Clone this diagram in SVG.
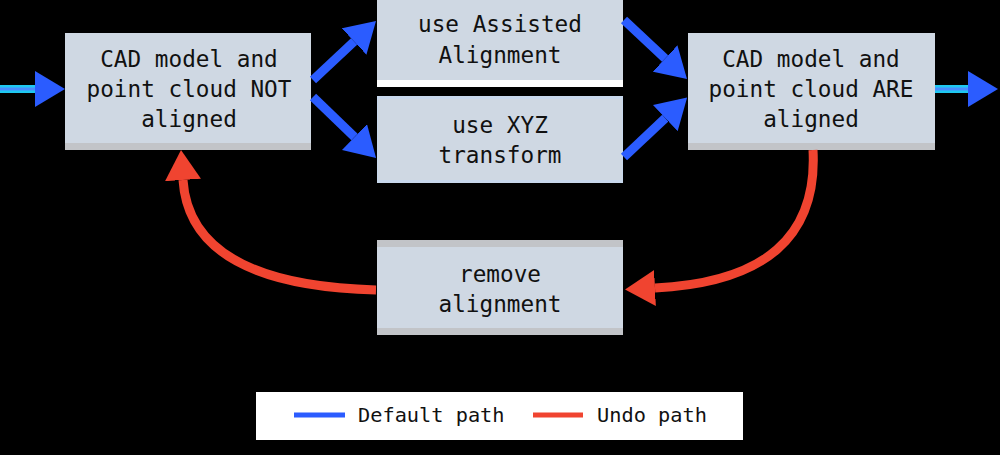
<svg xmlns="http://www.w3.org/2000/svg" width="1000" height="455" viewBox="0 0 1000 455">
<style>
.bg{fill:#000}
.box{fill:#cfd8e3}
.shade{fill:#c2c4c8}
.t{font-family:"DejaVu Sans Mono","Liberation Mono",monospace;font-size:22.7px;fill:#111;text-anchor:middle}
.lt{font-family:"DejaVu Sans Mono","Liberation Mono",monospace;font-size:20.3px;fill:#111}
.blue{stroke:#2b5cff;stroke-width:9;fill:none}
.red{stroke:#f04430;stroke-width:9;fill:none}
</style>
<defs>
<marker id="ab" viewBox="0 0 30 36" refX="0" refY="18" markerWidth="30" markerHeight="36" markerUnits="userSpaceOnUse" orient="auto"><path d="M0,0 L30,18 L0,36 z" fill="#2b5cff"/></marker>
<marker id="ar" viewBox="0 0 30 36" refX="0" refY="18" markerWidth="30" markerHeight="36" markerUnits="userSpaceOnUse" orient="auto"><path d="M0,0 L30,18 L0,36 z" fill="#f04430"/></marker>
</defs>
<rect class="bg" x="0" y="0" width="1000" height="455"/>
<g id="n-notaligned">
<rect class="shade" x="65" y="33" width="246" height="117"/>
<rect class="box" x="65" y="33" width="246" height="110"/>
<text class="t" x="189" y="67">CAD model and</text>
<text class="t" x="189" y="97">point cloud NOT</text>
<text class="t" x="189" y="127">aligned</text>
</g>
<g id="n-assisted">
<rect fill="#ffffff" x="377" y="0" width="246" height="87"/>
<rect class="box" x="377" y="0" width="246" height="80"/>
<text class="t" x="500" y="32">use Assisted</text>
<text class="t" x="500" y="63">Alignment</text>
</g>
<g id="n-xyz">
<rect fill="#c8d8ec" x="377" y="96" width="246" height="87"/>
<rect class="box" x="378" y="99" width="244" height="81"/>
<text class="t" x="500" y="133">use XYZ</text>
<text class="t" x="500" y="163">transform</text>
</g>
<g id="n-aligned">
<rect class="shade" x="688" y="33" width="247" height="117"/>
<rect class="box" x="688" y="33" width="247" height="110"/>
<text class="t" x="811" y="67">CAD model and</text>
<text class="t" x="811" y="97">point cloud ARE</text>
<text class="t" x="811" y="127">aligned</text>
</g>
<g id="n-remove">
<rect class="shade" x="377" y="240" width="246" height="95"/>
<rect class="box" x="377" y="247" width="246" height="81"/>
<text class="t" x="500" y="282">remove</text>
<text class="t" x="500" y="312">alignment</text>
</g>
<g id="connectors">
<line x1="0" y1="89" x2="35" y2="89" stroke="#1ec8f0" stroke-width="8"/>
<line x1="0" y1="89" x2="35" y2="89" stroke="#4a8cff" stroke-width="3" marker-end="url(#ab)"/>
<line x1="935" y1="89" x2="968" y2="89" stroke="#1ec8f0" stroke-width="8"/>
<line x1="935" y1="89" x2="968" y2="89" stroke="#4a8cff" stroke-width="3" marker-end="url(#ab)"/>
<line class="blue" x1="313" y1="80" x2="354.1" y2="41.5" marker-end="url(#ab)"/>
<line class="blue" x1="313" y1="97" x2="354.5" y2="137.1" marker-end="url(#ab)"/>
<line class="blue" x1="624" y1="20" x2="665.1" y2="58.5" marker-end="url(#ab)"/>
<line class="blue" x1="624" y1="157" x2="665.3" y2="118.1" marker-end="url(#ab)"/>
<path class="red" d="M813,150 Q820,280 655,288" marker-end="url(#ar)"/>
<path class="red" d="M376,290 Q190,285 183,180" marker-end="url(#ar)"/>
</g>
<g id="legend">
<rect fill="#ffffff" x="256" y="392" width="487" height="48"/>
<line x1="294" y1="415" x2="345" y2="415" stroke="#2b5cff" stroke-width="5"/>
<text class="lt" x="358" y="422">Default path</text>
<line x1="533" y1="415" x2="583" y2="415" stroke="#f04430" stroke-width="5"/>
<text class="lt" x="597" y="422">Undo path</text>
</g>
</svg>
